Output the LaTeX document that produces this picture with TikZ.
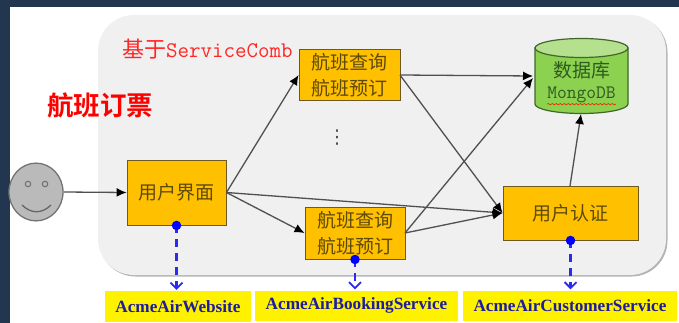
\documentclass[tikz,border=0pt]{standalone}
\usepackage{fontspec}
\setmainfont{Liberation Serif}
\newfontfamily\cjk[BoldFont={Noto Sans CJK SC Bold}]{Noto Sans CJK SC}
\newfontfamily\dotsf{DejaVu Sans}
\usetikzlibrary{arrows.meta,calc,decorations.pathmorphing}
\definecolor{bgdark}{HTML}{22364F}
\definecolor{panel}{HTML}{F0F0F0}
\definecolor{panelshadow}{HTML}{B4B4B4}
\definecolor{boxfill}{HTML}{FFC000}
\definecolor{boxline}{HTML}{6E5A20}
\definecolor{boxtext}{HTML}{5E4A08}
\definecolor{dbfill}{HTML}{8CD150}
\definecolor{dbtop}{HTML}{B5E08E}
\definecolor{dbline}{HTML}{41662A}
\definecolor{dbtext}{HTML}{2F5A20}
\definecolor{flow}{HTML}{505050}
\definecolor{dep}{HTML}{2A2AF0}
\definecolor{labtext}{HTML}{1C1CA0}
\tikzset{
  x=1pt,y=-1pt,
  service/.style={draw=boxline,line width=0.9pt,fill=boxfill,inner sep=0pt,align=center,text=boxtext,
    font=\cjk\fontsize{19}{26}\selectfont},
  flowline/.style={draw=flow,line width=1.3pt,-{Latex[length=10pt,width=9pt,black]}},
  depline/.style={draw=dep,line width=2.2pt,dash pattern=on 8pt off 6pt,shorten >=1pt,
    -{Straight Barb[length=6pt,width=12pt,line width=1.8pt]}},
  depdot/.style={circle,fill=blue,inner sep=0pt,minimum size=9.5pt},
  applabel/.style={fill=yellow,inner sep=0pt,text=labtext,font=\bfseries\fontsize{17.2}{19}\selectfont},
}
\begin{document}
\begin{tikzpicture}
\useasboundingbox (0,0) rectangle (679,323);
\fill[bgdark] (0,0) rectangle (679,323);
\fill[white] (10,7) rectangle (679,323);
\fill[panelshadow,rounded corners=36pt] (99.5,16.5) rectangle (667.5,276.5);
\fill[panel,rounded corners=36pt] (98,15) rectangle (666,275);

\node[text=red!85!white,anchor=west,inner sep=0pt] (base) at (122,49)
  {{\cjk\fontsize{22}{24}\selectfont 基于}{\ttfamily\fontsize{22.3}{24}\selectfont ServiceComb}};
\node[text=red,anchor=center,inner sep=0pt,font=\cjk\bfseries\fontsize{26.5}{30}\selectfont] (title) at (100,105) {航班订票};

\node[service,minimum width=99pt,minimum height=65pt] (ui) at (176.5,192.5) {用户界面};
\node[service,minimum width=101pt,minimum height=51pt] (top) at (349.5,75) {航班查询\\航班预订};
\node[service,minimum width=100pt,minimum height=52pt] (bot) at (355,233) {航班查询\\航班预订};
\node[service,minimum width=135pt,minimum height=54pt] (auth) at (570.5,213) {用户认证};

% database cylinder
\fill[dbfill,draw=dbline,line width=1.2pt] (535,48) -- (535,104)
  .. controls (535,109.2) and (555.8,113.5) .. (581.5,113.5)
  .. controls (607.2,113.5) and (628,109.2) .. (628,104) -- (628,48) -- cycle;
\fill[dbtop,draw=dbline,line width=1.2pt] (581.5,48) ellipse [x radius=46.5pt,y radius=9.5pt];
\node[text=dbtext,inner sep=0pt,font=\cjk\fontsize{19}{22}\selectfont] (dbname) at (581.5,70) {数据库};
\node[text=dbtext,inner sep=0pt,font=\ttfamily\fontsize{19}{20}\selectfont] (dbkind) at (581.5,95) {MongoDB};
\draw[red!70!orange,line width=0.7pt,decorate,decoration={snake,amplitude=0.7pt,segment length=4pt}]
  ($(dbkind.south west)+(0,1)$) -- ($(dbkind.south east)+(0,1)$);

\node[inner sep=0pt,text=black!70,font=\dotsf\fontsize{19}{19}\selectfont] (more) at (337,138) {⋮};

% smiley
\node[circle,draw=black!55,line width=1.3pt,fill=black!27,minimum size=54pt,inner sep=0pt,yscale=1.07] (user) at (36,192) {};
\node[circle,draw=black!55,line width=1.1pt,fill=black!27,minimum size=5.5pt,inner sep=0pt] (eyeL) at (28,184) {};
\node[circle,draw=black!55,line width=1.1pt,fill=black!27,minimum size=5.5pt,inner sep=0pt] (eyeR) at (45,184) {};
\coordinate (smileL) at (22,205);
\coordinate (smileR) at (51,205);
\draw[black!60,line width=1.3pt] (smileL) .. controls (31,214) and (42,214) .. (smileR);

% connectors
\coordinate (dbwest) at (533,76);
\coordinate (dbwestb) at (533,78);
\coordinate (dbbottom) at (581,114);
\coordinate (authtop) at (570,186);
\coordinate (topE) at (400,75);
\coordinate (botE) at (405,233);
\draw[flowline] (user.east) -- (ui.west);
\draw[flowline] (ui.east) -- (top.west);
\draw[flowline] (ui.east) -- (bot.west);
\draw[flowline] (ui.east) -- (auth.west);
\draw[flowline] (topE) -- (dbwest);
\draw[flowline] (topE) -- (auth.west);
\draw[flowline] (botE) -- (dbwestb);
\draw[flowline] (botE) -- (auth.west);
\draw[flowline] (authtop) -- (dbbottom);

% application labels
\node[applabel,minimum width=146pt,minimum height=31pt] (web) at (178,306.5) {\raisebox{-1.5pt}{AcmeAirWebsite}};
\node[applabel,minimum width=203pt,minimum height=30pt] (book) at (356.5,305.5) {\raisebox{-1.5pt}{AcmeAirBookingService}};
\node[applabel,minimum width=214pt,minimum height=30pt] (cust) at (570,305.5) {AcmeAirCustomerService};

\draw[depline] (ui.south) -- (ui.south |- web.north);
\draw[depline] (bot.south) -- (bot.south |- book.north);
\draw[depline] (auth.south) -- (auth.south |- cust.north);
\node[depdot] (d1) at (ui.south) {};
\node[depdot] (d2) at (bot.south) {};
\node[depdot] (d3) at (auth.south) {};
\end{tikzpicture}
\end{document}
